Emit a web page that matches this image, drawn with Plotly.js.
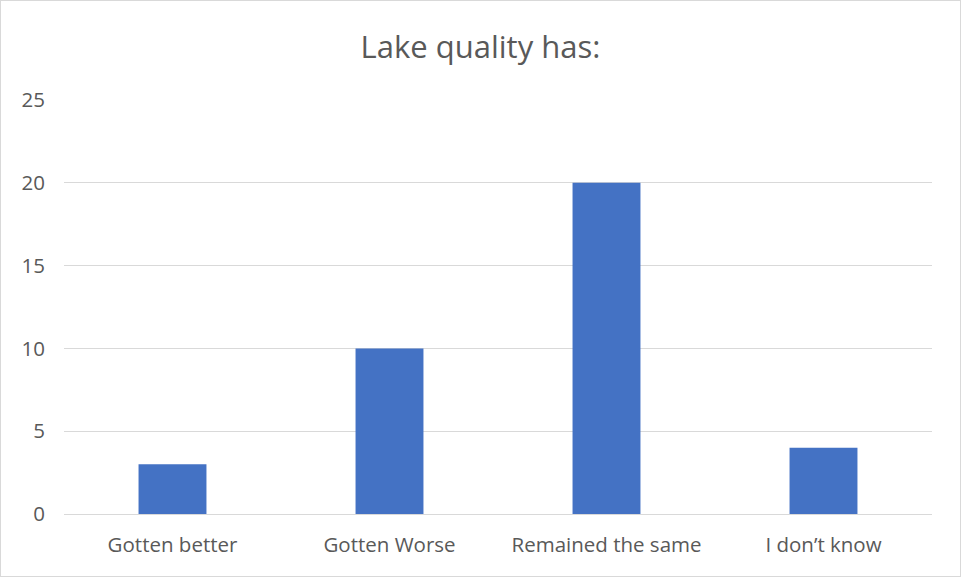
<!DOCTYPE html>
<html>
<head>
<meta charset="utf-8">
<script src="https://cdn.plot.ly/plotly-3.0.1.min.js"></script>
<style>
html,body{margin:0;padding:0;background:#fff;}
#wrap{position:relative;width:961px;height:577px;}
#chart{width:961px;height:577px;}
#frame{position:absolute;left:0;top:0;width:959px;height:575px;border:1px solid #d9d9d9;pointer-events:none;}
</style>
</head>
<body>
<div id="wrap"><div id="chart"></div><div id="frame"></div></div>
<script>
const categories = ["Gotten better", "Gotten Worse", "Remained the same", "I don\u2019t know"];
const counts = [3, 10, 20, 4];
const yTicks = [0, 5, 10, 15, 20, 25];

const textColor = "#595959";
const fontFam = "Open Sans, Lato, sans-serif";

Plotly.newPlot("chart", [{
  type: "bar",
  x: categories,
  y: counts,
  marker: {color: "#4472C4"},
  hoverinfo: "x+y"
}], {
  width: 961,
  height: 577,
  paper_bgcolor: "#ffffff",
  plot_bgcolor: "#ffffff",
  margin: {l: 64, r: 29, t: 100, b: 63},
  bargap: 0.687,
  showlegend: false,
  title: {
    text: "Lake quality has:",
    font: {family: fontFam, size: 31, color: textColor},
    x: 0.5, xanchor: "center",
    y: 0.918, yanchor: "middle"
  },
  xaxis: {
    type: "category",
    showgrid: false,
    showline: false,
    zeroline: false,
    ticks: "",
    tickfont: {family: fontFam, size: 20.5, color: textColor},
    ticklabelstandoff: 16
  },
  yaxis: {
    range: [0, 25],
    tickvals: yTicks,
    ticktext: yTicks.map(String),
    showgrid: true,
    gridcolor: "#d9d9d9",
    gridwidth: 1,
    zeroline: true,
    zerolinecolor: "#d9d9d9",
    zerolinewidth: 1,
    showline: false,
    ticks: "",
    tickfont: {family: fontFam, size: 20.5, color: textColor},
    ticklabelstandoff: 18
  }
}, {displayModeBar: false, staticPlot: true});
</script>
</body>
</html>
